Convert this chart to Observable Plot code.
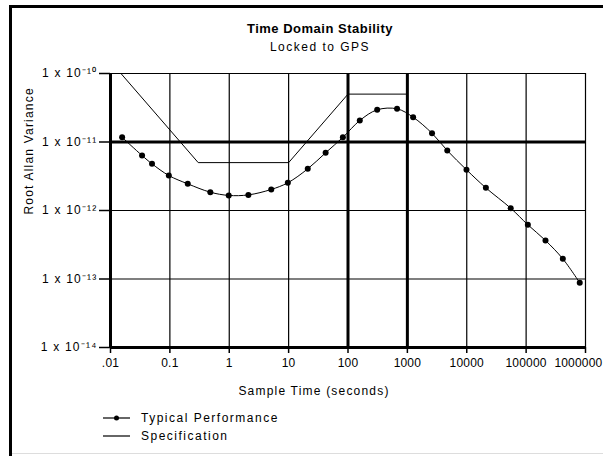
<!DOCTYPE html>
<html>
<head>
<meta charset="utf-8">
<script src="https://cdn.jsdelivr.net/npm/d3@7"></script>
<script src="https://cdn.jsdelivr.net/npm/@observablehq/plot@0.6"></script>
<style>
  body { margin: 0; background: #fff; }
  #wrap { position: relative; width: 603px; height: 456px; overflow: hidden; background: #fff;
          font-family: Arial, "Liberation Sans", sans-serif; color: #000; }
  .abs { position: absolute; white-space: nowrap; }
</style>
</head>
<body>
<div id="wrap">
  <div class="abs" style="left:9px;top:5px;width:594px;height:3px;background:#000"></div>
  <div class="abs" style="left:9px;top:5px;width:3px;height:451px;background:#000"></div>
  <div class="abs" style="left:12px;top:453px;width:591px;height:1px;background:#ddd"></div>
  <div class="abs" id="title" style="left:320px;top:21px;transform:translateX(-50%);font-weight:bold;font-size:13px;letter-spacing:0.5px;">Time Domain Stability</div>
  <div class="abs" id="subtitle" style="left:320px;top:40px;transform:translateX(-50%);font-size:12px;letter-spacing:1.5px;">Locked to GPS</div>
  <div class="abs" id="chart" style="left:0;top:58px;"></div>
  <div class="abs" id="legend" style="left:100px;top:409px;font-size:12px;letter-spacing:1.5px;line-height:18px;"></div>
</div>
<script>
// Typical Performance (sample time in seconds, root Allan variance)
const perfX = [0.0157, 0.034, 0.05, 0.096, 0.2, 0.48, 0.98, 2.1, 5.1, 9.7, 21, 42, 82, 158, 310, 670, 1250, 2600, 4700, 9900, 21000, 55000, 107000, 212000, 415000, 800000];
const perfY = [1.17e-11, 6.35e-12, 4.8e-12, 3.24e-12, 2.45e-12, 1.85e-12, 1.66e-12, 1.69e-12, 2.03e-12, 2.54e-12, 4.06e-12, 6.96e-12, 1.17e-11, 2.06e-11, 2.95e-11, 3.05e-11, 2.3e-11, 1.34e-11, 7.5e-12, 3.93e-12, 2.14e-12, 1.08e-12, 6.18e-13, 3.65e-13, 1.97e-13, 8.8e-14];
// Specification
const specX = [0.015, 0.3, 10, 100, 1000];
const specY = [1e-10, 5e-12, 5e-12, 5e-11, 5e-11];
// Axis ticks
const xTicks = [0.01, 0.1, 1, 10, 100, 1000, 10000, 100000, 1000000];
const xTickLabels = [".01", "0.1", "1", "10", "100", "1000", "10000", "100000", "1000000"];
const xThick = [0.01, 100, 1000];
const yTicks = [1e-14, 1e-13, 1e-12, 1e-11, 1e-10];
const yTickLabels = ["1 x 10⁻¹⁴", "1 x 10⁻¹³", "1 x 10⁻¹²", "1 x 10⁻¹¹", "1 x 10⁻¹⁰"];
const yThick = [1e-14, 1e-11];
const seriesNames = ["Typical Performance", "Specification"];

const perf = perfX.map((x, i) => ({x, y: perfY[i]}));
const spec = specX.map((x, i) => ({x, y: specY[i]}));
const lastX = xTicks[xTicks.length - 1];
const xLabel = d => xTickLabels[xTicks.indexOf(d)];

const chart = Plot.plot({
  width: 603,
  height: 342,
  marginTop: 15,
  marginLeft: 110,
  marginRight: 18,
  marginBottom: 53,
  style: {fontFamily: "Arial, 'Liberation Sans', sans-serif", fontSize: "12px", letterSpacing: "1.2px", background: "transparent", overflow: "visible"},
  x: {type: "log", domain: [0.01, 1e6]},
  y: {type: "log", domain: [1e-14, 1e-10]},
  marks: [
    Plot.ruleX(xTicks, {stroke: "#000", strokeWidth: 1.2}),
    Plot.ruleY(yTicks, {stroke: "#000", strokeWidth: 1.2}),
    Plot.ruleX(xThick, {stroke: "#000", strokeWidth: 3}),
    Plot.ruleY(yThick, {stroke: "#000", strokeWidth: 3}),
    Plot.axisX({ticks: xTicks, tickFormat: d => (d === lastX ? "" : xLabel(d)), tickSize: 6, tickPadding: 5, label: null, stroke: "#000", strokeWidth: 1.5, fill: "#000"}),
    Plot.axisX({ticks: [lastX], tickFormat: xLabel, tickSize: 0, tickPadding: 11, textAnchor: "end", dx: 17, label: null, fill: "#000"}),
    Plot.axisY({ticks: yTicks, tickFormat: d => yTickLabels[yTicks.indexOf(d)], tickSize: 11, tickPadding: 2, label: null, stroke: "#000", strokeWidth: 1.5, fill: "#000"}),
    Plot.line(spec, {x: "x", y: "y", stroke: "#000", strokeWidth: 1}),
    Plot.line(perf, {x: "x", y: "y", stroke: "#000", strokeWidth: 1, curve: "catmull-rom"}),
    Plot.dot(perf, {x: "x", y: "y", r: 3, fill: "#000", stroke: "none"}),
    Plot.text(["Sample Time (seconds)"], {frameAnchor: "bottom", dx: -34, dy: 47, fontSize: 12, fill: "#000"}),
    Plot.text(["Root Allan Variance"], {frameAnchor: "left", rotate: -90, dx: -81, dy: 4, fontSize: 12, fill: "#000"})
  ]
});
d3.select(chart).selectAll('g[aria-label="x-axis tick label"]').style("letter-spacing", "0.2px");
document.getElementById("chart").appendChild(chart);

const legend = document.getElementById("legend");
seriesNames.forEach((name, i) => {
  const row = document.createElement("div");
  row.style.display = "flex";
  row.style.alignItems = "center";
  row.style.height = "18px";
  const svgNS = "http://www.w3.org/2000/svg";
  const s = document.createElementNS(svgNS, "svg");
  s.setAttribute("width", "41");
  s.setAttribute("height", "18");
  const ln = document.createElementNS(svgNS, "line");
  ln.setAttribute("x1", "3"); ln.setAttribute("x2", "30");
  ln.setAttribute("y1", "9"); ln.setAttribute("y2", "9");
  ln.setAttribute("stroke", "#000"); ln.setAttribute("stroke-width", "1.2");
  s.appendChild(ln);
  if (i === 0) {
    const c = document.createElementNS(svgNS, "circle");
    c.setAttribute("cx", "16.5"); c.setAttribute("cy", "9"); c.setAttribute("r", "2.5");
    c.setAttribute("fill", "#000");
    s.appendChild(c);
  }
  row.appendChild(s);
  const t = document.createElement("span");
  t.textContent = name;
  row.appendChild(t);
  legend.appendChild(row);
});
</script>
</body>
</html>
